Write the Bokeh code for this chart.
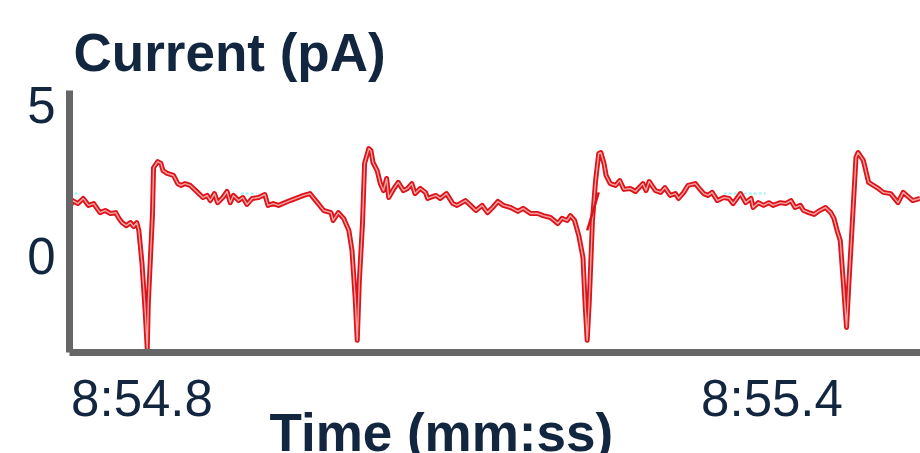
from bokeh.plotting import figure
from bokeh.models import FixedTicker, Label, Range1d
from bokeh.embed import file_html
from bokeh.resources import INLINE

# ---- data (time in seconds since 8:00, current in pA) ----
time_s = [
    # beat 1
    534.731, 534.734, 534.739, 534.744, 534.749, 534.754, 534.760, 534.765, 534.770, 534.775,
    534.778, 534.781, 534.785, 534.789, 534.792, 534.795, 534.797, 534.800, 534.803, 534.805,
    534.806, 534.810, 534.811, 534.815, 534.818, 534.820, 534.824, 534.830, 534.834, 534.837,
    534.841, 534.846, 534.853, 534.858, 534.862, 534.865, 534.869, 534.872, 534.877, 534.881,
    534.884, 534.887, 534.892, 534.896, 534.900, 534.905, 534.911, 534.917, 534.920, 534.925,
    534.930, 534.941, 534.954, 534.960, 534.967, 534.973, 534.980, 534.982, 534.987, 534.992,
    534.997,
    # beat 2
    535.000, 535.003, 535.005, 535.007, 535.010, 535.012, 535.016, 535.018, 535.020, 535.024,
    535.027, 535.030, 535.033, 535.035, 535.040, 535.044, 535.049, 535.053, 535.057, 535.060,
    535.065, 535.070, 535.072, 535.080, 535.084, 535.090, 535.096, 535.100, 535.108, 535.113,
    535.118, 535.124, 535.129, 535.134, 535.139, 535.144, 535.151, 535.158, 535.163, 535.170,
    535.177, 535.182, 535.189, 535.196, 535.200, 535.205, 535.208, 535.212, 535.216,
    # beat 3
    535.220, 535.222, 535.224, 535.226, 535.229, 535.232, 535.235, 535.237, 535.240, 535.242,
    535.246, 535.251, 535.255, 535.259, 535.265, 535.270, 535.277, 535.280, 535.283, 535.289,
    535.294, 535.298, 535.303, 535.308, 535.311, 535.316, 535.320, 535.327, 535.330, 535.335,
    535.339, 535.343, 535.348, 535.354, 535.359, 535.363, 535.370, 535.375, 535.380, 535.382,
    535.387, 535.392, 535.397, 535.401, 535.408, 535.413, 535.418, 535.422, 535.427, 535.430,
    535.435, 535.440, 535.444, 535.451, 535.456, 535.459, 535.462, 535.465,
    # beat 4
    535.468, 535.471, 535.473, 535.477, 535.480, 535.482, 535.487, 535.492, 535.500, 535.506,
    535.513, 535.520, 535.525, 535.534, 535.541,
]
current_pa = [
    # beat 1
    1.56, 1.82, 1.72, 1.89, 1.66, 1.72, 1.42, 1.49, 1.39, 1.42,
    1.23, 1.09, 0.99, 1.09, 0.96, 1.09, 0.83, -0.26, -1.82, -3.08,
    -1.59, 1.39, 2.91, 3.11, 3.05, 2.81, 2.72, 2.65, 2.38, 2.32,
    2.38, 2.32, 2.09, 1.92, 1.99, 1.82, 2.05, 1.75, 1.92, 2.12,
    1.75, 1.99, 1.82, 1.92, 1.69, 1.89, 1.92, 2.02, 1.66, 1.72,
    1.66, 1.82, 1.99, 2.05, 1.75, 1.49, 1.42, 1.16, 1.42, 1.23,
    0.83,
    # beat 2
    0.17, -1.39, -2.81, -0.83, 1.06, 3.05, 3.54, 3.48, 3.08, 2.81,
    2.38, 2.15, 2.55, 1.92, 2.22, 2.42, 2.15, 2.22, 2.38, 2.05,
    2.22, 2.09, 1.89, 1.99, 1.89, 2.05, 1.72, 1.66, 1.82, 1.66,
    1.49, 1.66, 1.42, 1.59, 1.79, 1.66, 1.59, 1.46, 1.56, 1.39,
    1.39, 1.32, 1.26, 1.06, 1.23, 1.16, 1.32, 1.16, 0.66,
    # beat 3
    -0.07, -1.59, -2.81, -1.49, 1.16, 2.48, 3.38, 3.41, 3.05, 2.65,
    2.38, 2.32, 2.48, 2.19, 2.22, 2.12, 2.38, 2.15, 2.45, 2.15,
    2.09, 2.25, 1.99, 2.05, 1.89, 2.09, 2.32, 2.38, 2.25, 2.05,
    1.99, 2.09, 1.82, 1.92, 1.89, 1.72, 2.05, 1.75, 1.89, 1.59,
    1.75, 1.66, 1.75, 1.66, 1.75, 1.72, 1.82, 1.59, 1.66, 1.49,
    1.42, 1.36, 1.46, 1.59, 1.42, 1.23, 0.83, 0.50,
    # beat 4
    -0.93, -2.38, -1.06, 1.39, 3.25, 3.41, 3.15, 2.42, 2.25, 2.09,
    2.05, 1.75, 2.09, 1.82, 1.89,
]
# short overlapping trace fragment near the third beat
frag_time = [535.224, 535.235]
frag_current = [0.83, 2.09]
# faint cyan background trace fragments
cyan_times = [[534.731, 534.741], [534.894, 534.909], [535.354, 535.394]]
cyan_currents = [[2.05, 2.05], [2.05, 2.05], [2.05, 2.05]]

y_ticks = [0, 5]
x_ticks = [534.8, 535.4]
x_tick_labels = ["8:54.8", "8:55.4"]

# axis extents (where the axis lines start/end)
x_axis_start, x_axis_end = 534.731, 535.541
y_axis_start, y_axis_end = -3.21, 5.46

x_title = "Time (mm:ss)"
y_title = "Current (pA)"

NAVY = "#12263f"
AXIS_GRAY = "#666666"
FONT = "Liberation Sans"

W, H = 920, 453
p = figure(
    width=W, height=H,
    output_backend="svg", toolbar_location=None,
    x_range=Range1d(534.66524, 535.54143), y_range=Range1d(-6.556, 8.444),
    min_border_left=0, min_border_right=0, min_border_top=0, min_border_bottom=0,
)
p.outline_line_color = None
p.background_fill_color = "white"
p.border_fill_color = "white"
p.grid.visible = False

# traces
p.multi_line(cyan_times, cyan_currents, line_color="#9ff0ff", line_width=2, line_dash="3 2")
p.line(time_s, current_pa, line_color="#dc1419", line_width=5, line_join="round")
p.line(time_s, current_pa, line_color="#f4a4a4", line_width=1.4, line_join="round")
p.line(frag_time, frag_current, line_color="#dc1419", line_width=2.5)

# axes, drawn at fixed positions inside the frame
for ax in (p.xaxis[0], p.yaxis[0]):
    ax.axis_line_color = AXIS_GRAY
    ax.axis_line_width = 7
    ax.major_tick_line_color = None
    ax.minor_tick_line_color = None
    ax.major_label_text_font = FONT
    ax.major_label_text_font_size = "51px"
    ax.major_label_text_color = NAVY

p.yaxis.ticker = FixedTicker(ticks=y_ticks)
p.yaxis.major_label_standoff = 8
p.yaxis.fixed_location = x_axis_start
p.yaxis.bounds = (y_axis_start, y_axis_end)

p.xaxis.ticker = FixedTicker(ticks=x_ticks)
p.xaxis.major_label_overrides = {t: lab for t, lab in zip(x_ticks, x_tick_labels)}
p.xaxis.major_label_standoff = 12
p.xaxis.fixed_location = y_axis_start
p.xaxis.bounds = (x_axis_start, x_axis_end)

# axis titles (screen px from bottom-left of the canvas)
p.add_layout(Label(x=73, y=401, x_units="screen", y_units="screen", text=y_title,
                   text_font=FONT, text_font_style="bold", text_font_size="53px",
                   text_color=NAVY, text_baseline="alphabetic", text_align="left"))
p.add_layout(Label(x=269, y=21, x_units="screen", y_units="screen", text=x_title,
                   text_font=FONT, text_font_style="bold", text_font_size="53px",
                   text_color=NAVY, text_baseline="alphabetic", text_align="left"))

open("out.html", "w").write(file_html(p, INLINE))
